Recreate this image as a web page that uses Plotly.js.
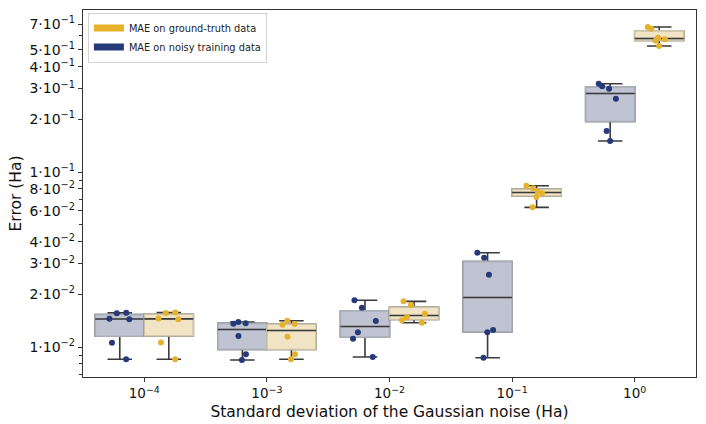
<!DOCTYPE html>
<html>
<head>
<meta charset="utf-8">
<script src="https://cdn.plot.ly/plotly-3.0.1.min.js"></script>
<style>
  body { margin: 0; background: #fff; }
  #chart { width: 706px; height: 424px; }
</style>
</head>
<body>
<div id="chart"></div>
<script>
// Noise levels (categories) and their tick labels
const noiseLevels = ['1e-4', '1e-3', '1e-2', '1e-1', '1e0'];
const noiseLabels = ['10<sup>−4</sup>', '10<sup>−3</sup>', '10<sup>−2</sup>', '10<sup>−1</sup>', '10<sup>0</sup>'];

// MAE on noisy training data (6 runs per noise level)
const noisyMAE = [
    [0.01570, 0.01558, 0.01451, 0.01439, 0.01058, 0.00851],
    [0.01389, 0.01366, 0.01360, 0.01156, 0.00908, 0.00843],
    [0.01849, 0.01677, 0.01408, 0.01213, 0.01115, 0.00877],
    [0.03458, 0.03238, 0.02589, 0.01250, 0.01213, 0.00869],
    [0.3197, 0.3090, 0.2992, 0.2623, 0.1715, 0.1503]
];

// MAE on ground-truth data
const truthMAE = [
    [0.01565, 0.01575, 0.01455, 0.01440, 0.01060, 0.00852],
    [0.01413, 0.01353, 0.01341, 0.01145, 0.00908, 0.00851],
    [0.01824, 0.01738, 0.01550, 0.01478, 0.01421, 0.01377],
    [0.0835, 0.0807, 0.0772, 0.0756, 0.0720, 0.0628],
    [0.674, 0.659, 0.5853, 0.5731, 0.5625, 0.5248]
];

// Labelled y ticks
const yTickVals = [0.01, 0.02, 0.03, 0.04, 0.06, 0.08, 0.1, 0.2, 0.3, 0.4, 0.5, 0.7];
const yMinorVals = [0.007, 0.008, 0.009, 0.05, 0.07, 0.09, 0.6];

const COLORS = {
    NOISY: '#26397a',
    TRUTH: '#e6b22c',
    NOISY_FILL: '#c0c4d2',
    TRUTH_FILL: '#f0e4c4',
    NOISY_EDGE: '#a9adb8',
    TRUTH_EDGE: '#cdc3ab',
    DARK: '#3a3a3a',
    AXIS: '#333333'
};
const FONT = 'DejaVu Sans, sans-serif';

function sciLabel(v) {
    const e = Math.floor(Math.log10(v) + 1e-9);
    const m = Math.round(v / Math.pow(10, e));
    return m + '·10<sup>' + (e < 0 ? '−' + (-e) : e) + '</sup>';
}

// numpy-style linear percentile
function percentile(sorted, p) {
    const pos = (sorted.length - 1) * p;
    const lo = Math.floor(pos), hi = Math.ceil(pos);
    return sorted[lo] + (sorted[hi] - sorted[lo]) * (pos - lo);
}

function boxStats(groups) {
    const s = { q1: [], median: [], q3: [], lo: [], hi: [] };
    groups.forEach(vals => {
        const v = vals.slice().sort((a, b) => a - b);
        const q1 = percentile(v, 0.25), q3 = percentile(v, 0.75);
        const iqr = q3 - q1;
        const inside = v.filter(x => x >= q1 - 1.5 * iqr && x <= q3 + 1.5 * iqr);
        s.q1.push(q1);
        s.q3.push(q3);
        s.median.push(percentile(v, 0.5));
        s.lo.push(inside[0]);
        s.hi.push(inside[inside.length - 1]);
    });
    return s;
}

function seriesTraces(groups, group, fill, edge, dot) {
    const st = boxStats(groups);
    const base = {
        type: 'box', x: noiseLevels, offsetgroup: group, boxpoints: false,
        showlegend: false, hoverinfo: 'skip'
    };
    const whiskers = Object.assign({}, base, {
        q1: st.q1, median: st.median, q3: st.q3, lowerfence: st.lo, upperfence: st.hi,
        fillcolor: 'rgba(0,0,0,0)', whiskerwidth: 0.5,
        line: { color: COLORS.DARK, width: 1.6 }
    });
    const body = Object.assign({}, base, {
        q1: st.q1, median: st.median, q3: st.q3, lowerfence: st.q1, upperfence: st.q3,
        fillcolor: fill, whiskerwidth: 0,
        line: { color: edge, width: 1.6 }
    });
    const median = Object.assign({}, base, {
        q1: st.median, median: st.median, q3: st.median, lowerfence: st.median, upperfence: st.median,
        fillcolor: 'rgba(0,0,0,0)', whiskerwidth: 0,
        line: { color: COLORS.DARK, width: 1.6 }
    });
    const xs = [], ys = [];
    groups.forEach((vals, i) => vals.forEach(v => { xs.push(noiseLevels[i]); ys.push(v); }));
    const points = {
        type: 'box', x: xs, y: ys, offsetgroup: group,
        boxpoints: 'all', jitter: 0.5, pointpos: 0,
        fillcolor: 'rgba(0,0,0,0)', line: { width: 0, color: 'rgba(0,0,0,0)' },
        marker: { color: dot, size: 6, line: { width: 0 } },
        showlegend: false, hoverinfo: 'y'
    };
    return [whiskers, body, median, points];
}

function legendTrace(name, color) {
    return {
        type: 'scatter', mode: 'lines', x: [null], y: [null], name: name,
        line: { color: color, width: 7 }, hoverinfo: 'skip'
    };
}

const traces = [].concat(
    seriesTraces(noisyMAE, 'noisy', COLORS.NOISY_FILL, COLORS.NOISY_EDGE, COLORS.NOISY),
    seriesTraces(truthMAE, 'truth', COLORS.TRUTH_FILL, COLORS.TRUTH_EDGE, COLORS.TRUTH),
    [legendTrace('MAE on ground-truth data', COLORS.TRUTH),
     legendTrace('MAE on noisy training data', COLORS.NOISY)]
);

const layout = {
    width: 706,
    height: 424,
    margin: { l: 83, r: 10, t: 10, b: 47 },
    paper_bgcolor: '#ffffff',
    plot_bgcolor: '#ffffff',
    font: { family: FONT, color: '#111111' },
    boxmode: 'group',
    boxgap: 0.2,
    boxgroupgap: 0,
    xaxis: {
        type: 'category',
        range: [-0.5, 4.5],
        tickvals: noiseLevels,
        ticktext: noiseLabels,
        tickfont: { size: 13.5 },
        ticks: 'outside', ticklen: 4, tickcolor: COLORS.AXIS,
        showline: true, linecolor: COLORS.AXIS, linewidth: 1.2, mirror: true,
        showgrid: false, zeroline: false,
        title: { text: 'Standard deviation of the Gaussian noise (Ha)', font: { size: 15.5 }, standoff: 5 }
    },
    yaxis: {
        type: 'log',
        range: [Math.log10(0.00674), Math.log10(0.843)],
        tickvals: yTickVals,
        ticktext: yTickVals.map(sciLabel),
        tickfont: { size: 14 },
        ticks: 'outside', ticklen: 4, tickcolor: COLORS.AXIS,
        minor: { tickvals: yMinorVals, ticks: 'outside', ticklen: 2.5, tickcolor: COLORS.AXIS },
        showline: true, linecolor: COLORS.AXIS, linewidth: 1.2, mirror: true,
        showgrid: false, zeroline: false,
        title: { text: 'Error (Ha)', font: { size: 15.5 }, standoff: 4 }
    },
    legend: {
        x: 0.008, y: 0.993, xanchor: 'left', yanchor: 'top',
        bgcolor: '#ffffff', bordercolor: '#d4d4d4', borderwidth: 1,
        font: { size: 9.8, color: '#222222' },
        tracegroupgap: 0, itemwidth: 30
    }
};

Plotly.newPlot('chart', traces, layout, { displayModeBar: false, staticPlot: true });
</script>
</body>
</html>
